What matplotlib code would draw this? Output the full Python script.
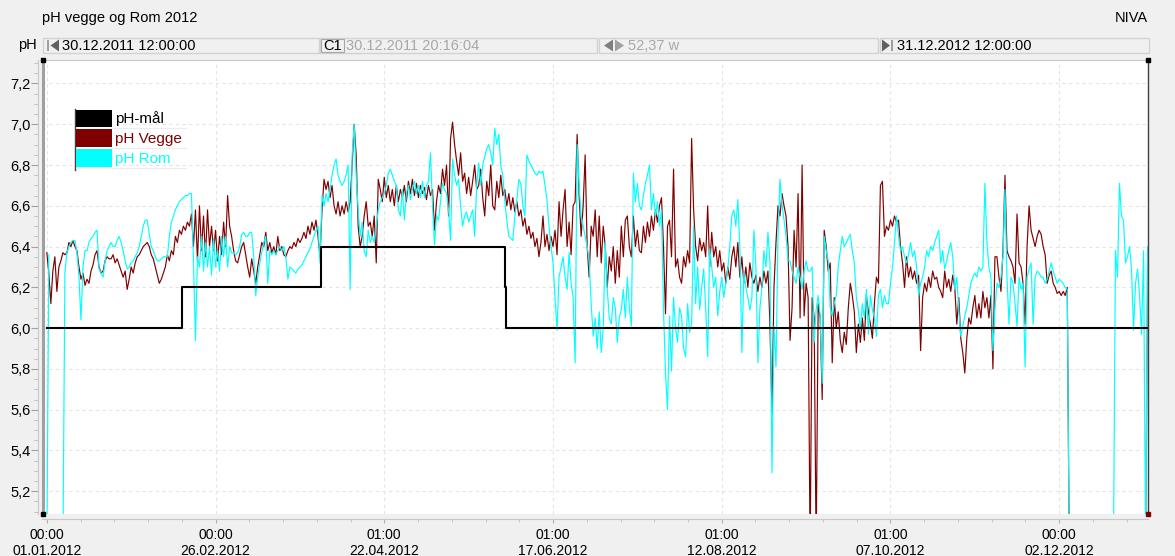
import numpy as np
import matplotlib
matplotlib.use("Agg")
import matplotlib.pyplot as plt
from matplotlib.patches import Rectangle, Polygon
from matplotlib.lines import Line2D
from matplotlib.ticker import MultipleLocator, FixedLocator, FuncFormatter

plt.rcParams['font.family'] = ['Liberation Sans', 'DejaVu Sans']

# ---------------- data ----------------
nan = np.nan
STEP_DAYS = 2.0 / 3.0          # 16 h logging interval, days since 01.01.2012 00:00

maal_days = [0.0, 45.0, 91.0, 152.0, 152.25, 365.5]
maal_vals = [6.0, 6.2, 6.4, 6.2, 6.0, 6.0]

vegge_start = 0.0
vegge_vals = [
    6.37, 6.27, 6.12, 6.28, 6.35, 6.18, 6.30, 6.33, 6.37, 6.36,
    6.37, 6.42, 6.40, 6.43, 6.40, 6.38, 6.30, 6.24, 6.27, 6.21,
    6.24, 6.22, 6.28, 6.31, 6.36, 6.38, 6.30, 6.27, 6.28, 6.33,
    6.35, 6.34, 6.34, 6.36, 6.32, 6.34, 6.31, 6.28, 6.25, 6.28,
    6.19, 6.24, 6.30, 6.27, 6.32, 6.35, 6.36, 6.38, 6.40, 6.41,
    6.42, 6.40, 6.36, 6.34, 6.30, 6.26, 6.22, 6.24, 6.27, 6.30,
    6.36, 6.33, 6.38, 6.36, 6.45, 6.42, 6.48, 6.46, 6.50, 6.48,
    6.52, 6.50, 6.56, 6.40, 6.58, 6.33, 6.60, 6.38, 6.55, 6.35,
    6.58, 6.40, 6.50, 6.38, 6.48, 6.33, 6.45, 6.36, 6.52, 6.40,
    6.65, 6.50, 6.45, 6.38, 6.33, 6.32, 6.36, 6.40, 6.42, 6.36,
    6.30, 6.25, 6.34, 6.28, 6.22, 6.30, 6.36, 6.42, 6.40, 6.47,
    6.38, 6.42, 6.37, 6.40, 6.36, 6.45, 6.38, 6.40, 6.36, 6.35,
    6.38, 6.40, 6.39, 6.42, 6.40, 6.44, 6.42, 6.44, 6.47, 6.44,
    6.50, 6.46, 6.52, 6.48, 6.53, 6.45, 6.35, 6.58, 6.73, 6.68,
    6.72, 6.64, 6.70, 6.60, 6.56, 6.62, 6.55, 6.60, 6.56, 6.62,
    6.57, 6.62, 6.80, 7.00, 6.85, 6.50, 6.40, 6.45, 6.55, 6.62,
    6.50, 6.52, 6.45, 6.55, 6.32, 6.73, 6.68, 6.62, 6.74, 6.64,
    6.70, 6.62, 6.68, 6.60, 6.70, 6.62, 6.68, 6.64, 6.70, 6.62,
    6.72, 6.66, 6.73, 6.65, 6.71, 6.64, 6.70, 6.66, 6.69, 6.63,
    6.70, 6.65, 6.68, 6.48, 6.62, 6.70, 6.66, 6.78, 6.70, 6.80,
    6.55, 6.93, 7.01, 6.90, 6.82, 6.75, 6.86, 6.72, 6.76, 6.66,
    6.74, 6.65, 6.72, 6.80, 6.68, 6.70, 6.78, 6.64, 6.55, 6.72,
    6.65, 6.80, 6.60, 6.58, 6.72, 6.64, 6.75, 6.65, 6.68, 6.60,
    6.66, 6.58, 6.64, 6.57, 6.62, 6.55, 6.58, 6.50, 6.54, 6.46,
    6.50, 6.44, 6.47, 6.40, 6.44, 6.35, 6.42, 6.55, 6.40, 6.46,
    6.38, 6.45, 6.40, 6.48, 6.36, 6.62, 6.45, 6.58, 6.68, 6.40,
    6.52, 6.36, 6.60, 6.62, 6.95, 6.65, 6.45, 6.60, 6.85, 6.40,
    6.25, 6.50, 6.45, 6.58, 6.35, 6.55, 6.32, 6.50, 6.40, 6.20,
    6.35, 6.28, 6.40, 6.22, 6.38, 6.25, 6.50, 6.35, 6.53, 6.55,
    6.40, 6.35, 6.55, 6.40, 6.48, 6.38, 6.37, 6.50, 6.42, 6.52,
    6.45, 6.55, 6.48, 6.58, 6.52, 6.60, 6.64, 6.40, 6.07, 6.50,
    6.53, 6.35, 6.78, 6.30, 6.34, 6.25, 6.22, 6.35, 6.30, 6.38,
    6.32, 6.93, 6.58, 6.40, 6.33, 6.44, 6.38, 6.42, 6.35, 6.60,
    6.30, 6.47, 6.35, 6.40, 6.30, 6.38, 6.28, 6.32, 6.22, 6.30,
    6.24, 6.35, 6.40, 6.30, 6.42, 6.25, 6.35, 6.22, 6.30, 6.20,
    6.32, 6.25, 6.22, 6.26, 6.18, 6.25, 6.20, 6.28, 6.22, 6.28,
    6.02, 5.58, 6.20, 6.42, 6.60, 6.55, 6.66, 6.60, 6.55, 6.40,
    5.94, 6.10, 6.48, 6.30, 6.66, 6.05, 6.80, 6.06, 6.22, 6.15,
    4.90, 6.15, 6.05, 4.90, 6.12, 6.05, 5.65, 6.48, 6.40, 6.28,
    6.32, 5.83, 6.15, 6.00, 6.08, 5.94, 5.88, 5.98, 5.92, 6.10,
    6.22, 6.16, 6.08, 5.88, 6.02, 5.93, 6.05, 5.94, 6.16, 6.08,
    6.02, 5.95, 6.12, 6.25, 6.22, 6.70, 6.72, 6.45, 6.50, 6.48,
    6.53, 6.50, 6.55, 6.52, 6.53, 6.40, 6.32, 6.20, 6.35, 6.25,
    6.30, 6.24, 6.28, 6.22, 6.26, 5.89, 6.15, 6.22, 6.18, 6.25,
    6.20, 6.28, 6.24, 6.25, 6.20, 6.18, 6.15, 6.28, 6.20, 6.24,
    6.18, 6.26, 6.20, 6.02, 6.15, 5.95, 5.88, 5.78, 5.95, 6.05,
    6.02, 6.10, 6.16, 6.05, 6.12, 6.05, 6.18, 6.10, 6.15, 6.05,
    6.16, 5.80, 6.35, 6.35, 6.25, 6.18, 6.38, 6.75, 6.38, 6.35,
    6.33, 6.30, 6.22, 6.56, 6.32, 6.30, 6.22, 6.02, 6.40, 6.60,
    6.48, 6.44, 6.40, 6.45, 6.48, 6.46, 6.40, 6.36, 6.22, 6.26,
    6.28, 6.22, 6.20, 6.17, 6.18, 6.16, 6.18, 6.16, 6.20, 4.90,
]
vegge_end_start = 364.0 + 2.0 / 3.0
vegge_end_vals = [4.90, 6.30]

rom_start = 0.0
rom_vals = [
    4.90, 6.36, nan, nan, nan, nan, nan, nan, 4.90, 6.27,
    6.37, 6.40, 6.42, 6.43, 6.43, 6.37, 6.25, 6.04, 6.30, 6.38,
    6.38, 6.42, 6.44, 6.45, 6.47, 6.48, 6.29, 6.27, 6.25, 6.33,
    6.38, 6.40, 6.42, 6.40, 6.40, 6.43, 6.45, 6.42, 6.38, 6.33,
    6.29, 6.30, 6.32, 6.33, 6.35, 6.37, 6.40, 6.45, 6.50, 6.53,
    6.53, 6.46, 6.40, 6.38, 6.35, 6.33, 6.33, 6.34, 6.35, 6.35,
    6.35, 6.45, 6.52, 6.55, 6.58, 6.60, 6.62, 6.63, 6.64, 6.65,
    6.65, 6.66, 6.66, 6.33, 5.94, 6.35, 6.30, 6.45, 6.28, 6.42,
    6.30, 6.40, 6.26, 6.44, 6.30, 6.38, 6.28, 6.45, 6.35, 6.45,
    6.30, 6.40, 6.37, 6.37, 6.36, 6.37, 6.40, 6.46, 6.47, 6.45,
    6.45, 6.47, 6.47, 6.35, 6.16, 6.25, 6.32, 6.37, 6.42, 6.45,
    6.22, 6.38, 6.36, 6.38, 6.36, 6.38, 6.40, 6.38, 6.40, 6.35,
    6.24, 6.30, 6.29, 6.28, 6.27, 6.29, 6.30, 6.31, 6.33, 6.35,
    6.37, 6.39, 6.42, 6.45, 6.48, 6.50, 6.32, 6.65, 6.60, 6.66,
    6.62, 6.68, 6.75, 6.80, 6.83, 6.75, 6.72, 6.70, 6.72, 6.75,
    6.80, 6.19, 6.85, 7.00, 6.75, 6.58, 6.45, 6.52, 6.38, 6.35,
    6.48, 6.42, 6.45, 6.42, 6.50, 6.58, 6.62, 6.64, 6.66, 6.70,
    6.76, 6.78, 6.75, 6.72, 6.70, 6.58, 6.55, 6.68, 6.53, 6.66,
    6.70, 6.63, 6.68, 6.72, 6.66, 6.70, 6.64, 6.72, 6.64, 6.70,
    6.72, 6.86, 6.60, 6.41, 6.55, 6.53, 6.62, 6.71, 6.68, 6.66,
    6.58, 6.43, 6.83, 6.75, 6.70, 6.73, 6.60, 6.50, 6.55, 6.57,
    6.52, 6.55, 6.58, 6.45, 6.70, 6.81, 6.70, 6.80, 6.84, 6.88,
    6.90, 6.86, 6.80, 6.98, 6.90, 6.95, 6.80, 6.75, 6.62, 6.53,
    6.45, 6.44, 6.43, 6.55, 6.63, 6.73, 6.71, 6.60, 6.55, 6.85,
    6.82, 6.80, 6.78, 6.76, 6.75, 6.77, 6.76, 6.77, 6.70, 6.63,
    6.50, 6.40, 6.32, 6.15, 5.99, 6.25, 6.30, 6.35, 6.25, 6.19,
    6.37, 6.22, 6.15, 5.83, 6.90, 6.70, 6.55, 6.50, 6.45, 6.40,
    6.33, 6.12, 5.96, 6.05, 5.90, 6.08, 5.88, 6.00, 6.42, 6.19,
    6.05, 6.02, 6.15, 6.10, 5.93, 6.05, 6.09, 6.19, 6.05, 6.25,
    6.10, 6.01, 6.76, 6.62, 6.71, 6.60, 6.58, 6.65, 6.71, 6.75,
    6.80, 6.58, 6.66, 6.55, 6.62, 6.50, 6.58, 6.09, 5.78, 5.60,
    6.06, 5.79, 6.15, 6.00, 5.93, 6.10, 6.06, 5.90, 5.86, 6.12,
    5.98, 6.02, 6.50, 6.12, 6.30, 6.09, 6.20, 6.29, 6.10, 5.86,
    6.39, 6.30, 6.20, 6.25, 6.06, 6.18, 6.25, 6.15, 6.22, 6.29,
    6.40, 6.55, 6.58, 6.50, 6.63, 6.40, 5.88, 6.27, 6.20, 6.15,
    6.09, 6.15, 6.48, 6.30, 5.83, 6.10, 6.20, 6.38, 6.30, 6.47,
    6.32, 5.29, 6.01, 5.81, 6.45, 6.73, 6.61, 6.53, 6.45, 6.33,
    6.33, 6.28, 6.25, 6.22, 6.30, 6.25, 6.19, 6.28, 6.33, 6.28,
    6.28, 6.30, 5.93, 6.09, 6.16, 6.06, 5.73, 6.45, 6.38, 6.33,
    6.10, 6.06, 6.12, 6.16, 6.30, 6.38, 6.45, 6.40, 6.42, 6.44,
    6.46, 6.38, 6.32, 6.15, 6.09, 5.99, 6.12, 6.05, 6.19, 5.97,
    6.16, 6.09, 6.05, 5.96, 6.16, 6.19, 6.10, 6.16, 6.12, 6.12,
    6.22, 6.30, 6.42, 6.55, 6.45, 6.38, 6.40, 6.35, 6.32, 6.36,
    6.42, 6.35, 6.38, 6.30, 6.16, 6.22, 6.25, 6.30, 6.38, 6.35,
    6.40, 6.38, 6.42, 6.45, 6.48, 6.32, 6.38, 6.29, 6.33, 6.38,
    6.42, 6.35, 6.19, 6.25, 6.09, 5.96, 6.01, 6.06, 6.10, 6.16,
    6.22, 6.25, 6.27, 6.25, 6.30, 6.28, 6.30, 6.71, 6.42, 6.30,
    6.25, 5.89, 6.09, 6.22, 6.20, 6.25, 6.35, 6.68, 6.25, 6.02,
    6.25, 6.22, 6.12, 6.01, 6.25, 6.19, 6.22, 5.81, 6.25, 6.29,
    6.32, 6.02, 6.25, 6.28, 6.27, 6.25, 6.25, 6.22, 6.24, 6.28,
    6.32, 6.28, 6.25, 6.22, 6.24, 6.23, 6.22, 6.20, 6.19, 4.90,
]
rom_end_start = 354.0
rom_end_vals = [4.90, 6.38, 6.25, 6.71, 6.55, 6.53, 6.32, 6.35, 6.40, 6.29,
                5.99, 6.22, 6.29, 6.16, 5.97, 6.38, 4.90, 6.40]

series_names = ["pH-mål", "pH Vegge", "pH Rom"]
series_colors = ["#000000", "#800000", "#00ffff"]

tick_days = [0, 56, 112, 168, 224, 280, 336]
tick_labels = ["00:00\n01.01.2012", "00:00\n26.02.2012", "01:00\n22.04.2012",
               "01:00\n17.06.2012", "01:00\n12.08.2012", "01:00\n07.10.2012",
               "00:00\n02.12.2012"]
y_ticks = [5.2, 5.4, 5.6, 5.8, 6.0, 6.2, 6.4, 6.6, 6.8, 7.0, 7.2]

x_start, x_end = -1.5, 365.5                       # 30.12.2011 12:00 .. 31.12.2012 12:00
c1_day = -1.5 + (8 + 16 / 60 + 4 / 3600) / 24.0      # C1 cursor 30.12.2011 20:16:04

header_title = "pH vegge og Rom 2012"
header_right = "NIVA"
start_text = "30.12.2011 12:00:00"
c1_text = "30.12.2011 20:16:04"
span_text = "52,37 w"
end_text = "31.12.2012 12:00:00"

# ---------------- figure ----------------
W, H = 1175, 556
BG = "#f0f0f0"
FS = 10.5
fig = plt.figure(figsize=(W / 100, H / 100), dpi=100, facecolor=BG)


def fx(px):
    return px / W


def fy(py):
    return 1 - py / H


ax_l, ax_r, ax_t, ax_b = 42.3, 1148.1, 60.0, 513.7
ax = fig.add_axes([fx(ax_l), fy(ax_b), (ax_r - ax_l) / W, (ax_b - ax_t) / H])
ax.set_facecolor("white")

t_v = vegge_start + np.arange(len(vegge_vals)) * STEP_DAYS
t_ve = vegge_end_start + np.arange(len(vegge_end_vals)) * STEP_DAYS
t_r = rom_start + np.arange(len(rom_vals)) * STEP_DAYS
t_re = rom_end_start + np.arange(len(rom_end_vals)) * STEP_DAYS

lw = 0.85
ax.plot(t_v, vegge_vals, color=series_colors[1], lw=lw, zorder=3)
ax.plot(t_ve, vegge_end_vals, color="#ff4040", lw=1.0, zorder=3)
ax.plot(t_r, rom_vals, color=series_colors[2], lw=lw, zorder=4)
ax.plot(t_re, rom_end_vals, color=series_colors[2], lw=lw, zorder=4)
ax.step(maal_days, maal_vals, where="post", color=series_colors[0], lw=1.5, zorder=5)

ax.set_xlim(x_start, x_end)
ax.set_ylim(5.09, 7.315)

# cursors / edges
ax.axvline(c1_day, color="#a0a0a0", lw=2.2, zorder=6, clip_on=False)
ax.axvline(x_end, color="#404040", lw=1.0, zorder=6, clip_on=False)
for xd, yv, col in [(c1_day, 7.315, "k"), (c1_day, 5.09, "k"),
                    (x_end, 7.315, "k"), (x_end, 5.09, "#800000")]:
    ax.plot([xd], [yv], marker="s", ms=2.6, color=col, clip_on=False, zorder=7)

# axes styling
ax.xaxis.set_major_locator(FixedLocator(tick_days))
ax.set_xticklabels(tick_labels, fontsize=FS, linespacing=1.2)
ax.xaxis.set_minor_locator(MultipleLocator(11.2))
ax.yaxis.set_major_locator(FixedLocator(y_ticks))
ax.yaxis.set_major_formatter(FuncFormatter(lambda v, p: f"{v:.1f}".replace(".", ",")))
ax.yaxis.set_minor_locator(MultipleLocator(0.05))
ax.tick_params(axis="y", which="major", labelsize=FS, length=5, width=0.8,
               color="#a0a0a0", pad=0.5)
ax.tick_params(axis="y", which="minor", length=3, width=0.6, color="#b8b8b8")
ax.tick_params(axis="x", which="major", length=3, width=0.8, color="#b0b0b0", pad=3)
ax.tick_params(axis="x", which="minor", length=2.5, width=0.6, color="#c0c0c0")

ax.spines["left"].set_position(("outward", 3))
ax.spines["bottom"].set_position(("outward", 4))
ax.spines["left"].set_color("#c8c8c8")
ax.spines["bottom"].set_color("#c8c8c8")
ax.spines["top"].set_color("#c8c8c8")
ax.spines["right"].set_visible(False)

ax.grid(True, which="major", color="#e4e4e4", lw=0.8, ls=(0, (3, 3)), zorder=0)
ax.set_axisbelow(True)

# ---------------- legend ----------------
leg_x0, leg_x1 = 76, 112
leg_rows = [(110, 127), (129, 147), (149, 167)]
fig.add_artist(Line2D([fx(74.5), fx(74.5)], [fy(109), fy(170)], color="#404040", lw=1.0))
for (y0, y1), name, col in zip(leg_rows, series_names, series_colors):
    fig.add_artist(Rectangle((fx(leg_x0), fy(y1)), (leg_x1 - leg_x0) / W, (y1 - y0) / H,
                             transform=fig.transFigure, fc=col, ec="none", zorder=8))
    fig.add_artist(Line2D([fx(112), fx(186)], [fy(y1 + 1), fy(y1 + 1)], color="#ececec", lw=0.8))
    fig.text(fx(115), fy((y0 + y1) / 2 + 0.5), name, color=col, fontsize=FS + 0.5,
             ha="left", va="center", zorder=9)

# ---------------- header ----------------
fig.text(fx(42), fy(18), header_title, fontsize=FS, ha="left", va="center")
fig.text(fx(1148), fy(18), header_right, fontsize=FS, ha="right", va="center")
fig.text(fx(18), fy(45), "pH", fontsize=FS, ha="left", va="center")

box_top, box_bot = 38, 53
boxes = [(43, 319), (320, 597), (599, 878), (880, 1149)]
for x0, x1 in boxes:
    fig.add_artist(Rectangle((fx(x0), fy(box_bot)), (x1 - x0) / W, (box_bot - box_top) / H,
                             transform=fig.transFigure, fc=BG, ec="#d2d2d2", lw=1.0))


def tri(points, color):
    fig.add_artist(Polygon([(fx(a), fy(b)) for a, b in points], closed=True,
                           transform=fig.transFigure, fc=color, ec="none"))


def bar(x0, x1, color):
    fig.add_artist(Rectangle((fx(x0), fy(51)), (x1 - x0) / W, 11 / H,
                             transform=fig.transFigure, fc=color, ec="none"))


cy = 45.5
# box 1
bar(47, 49, "#a0a0a0")
tri([(59, 39.5), (59, 51.5), (50.5, cy)], "#606060")
fig.text(fx(62), fy(cy), start_text, fontsize=FS, ha="left", va="center")
# box 2
fig.add_artist(Rectangle((fx(321), fy(52)), 23 / W, 13 / H, transform=fig.transFigure,
                         fc=BG, ec="#a8a8a8", lw=0.8))
fig.text(fx(323), fy(cy), "C1", fontsize=FS, ha="left", va="center")
fig.text(fx(346.5), fy(cy), c1_text, fontsize=FS, ha="left", va="center", color="#a8a8a8")
# box 3
tri([(613, 39.5), (613, 51.5), (604, cy)], "#808080")
tri([(615, 39.5), (615, 51.5), (624, cy)], "#a0a0a0")
fig.text(fx(627.5), fy(cy), span_text, fontsize=FS, ha="left", va="center", color="#a8a8a8")
# box 4
tri([(882, 39.5), (882, 51.5), (890, cy)], "#606060")
bar(891, 893, "#a0a0a0")
fig.text(fx(897), fy(cy), end_text, fontsize=FS, ha="left", va="center")

fig.savefig("out.png", dpi=100, facecolor=BG)
